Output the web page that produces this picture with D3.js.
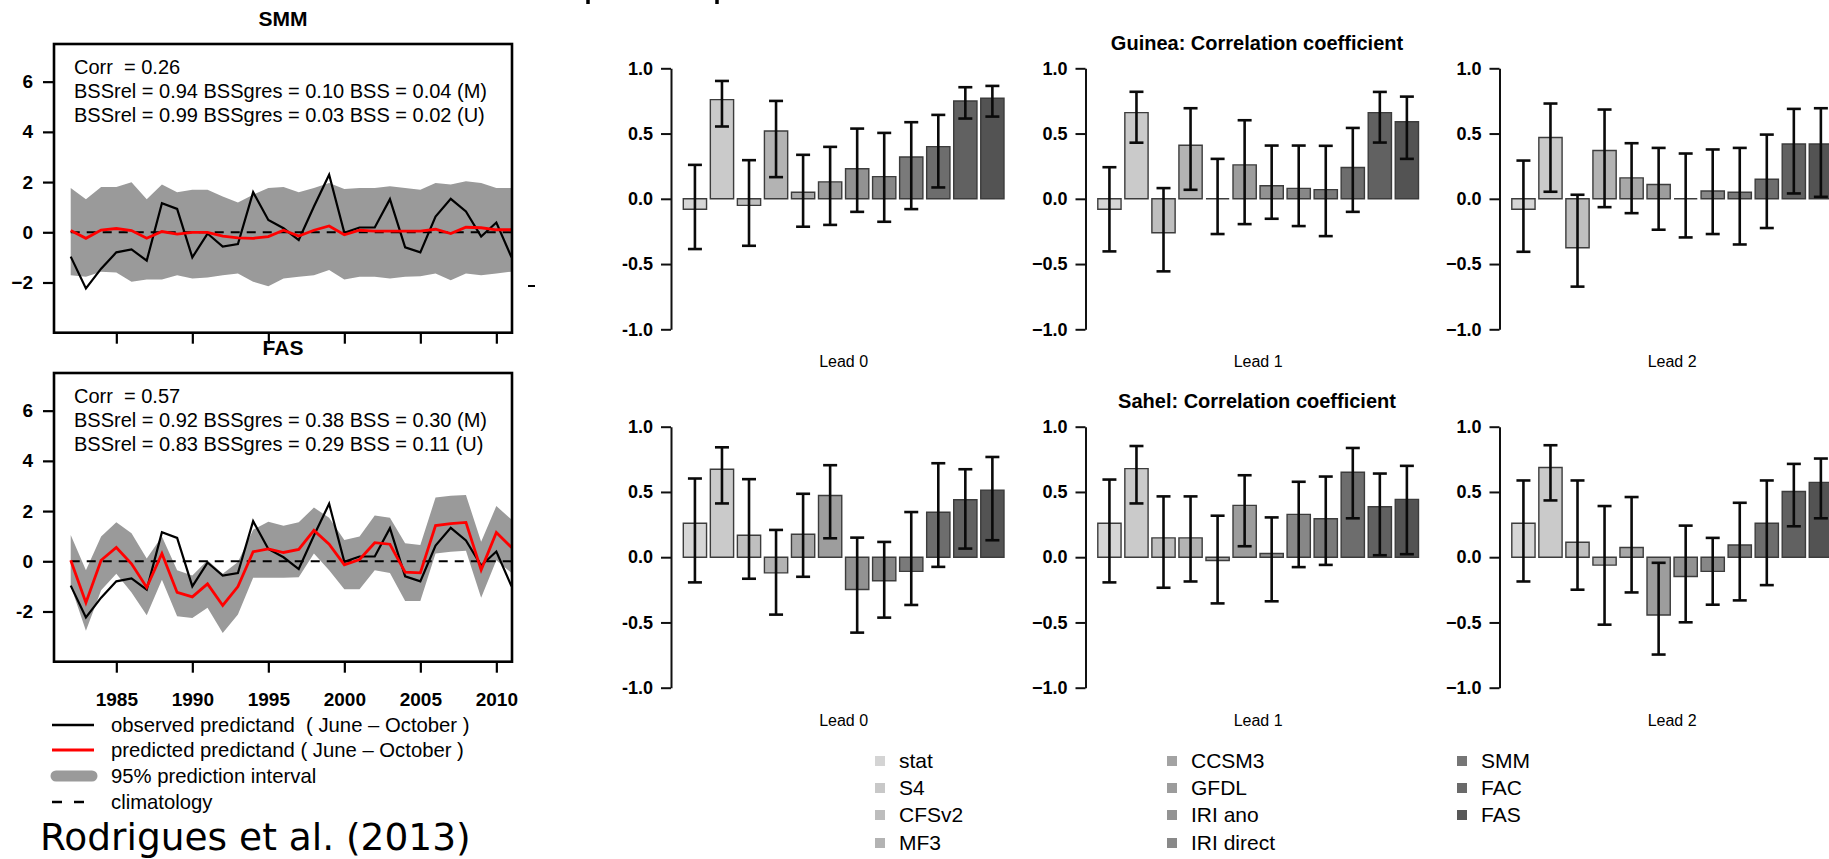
<!DOCTYPE html>
<html><head><meta charset="utf-8">
<script src="https://cdn.jsdelivr.net/npm/d3@7"></script>
<style>
body{margin:0;background:#fff;}
svg{display:block;overflow:hidden;}
text{font-family:"Liberation Sans",Arial,Helvetica,sans-serif;}
</style>
</head><body>
<svg id="c" width="1829" height="859"></svg>
<script>
// ---------------- DATA ----------------
const years = [1982,1983,1984,1985,1986,1987,1988,1989,1990,1991,1992,1993,1994,1995,1996,1997,1998,1999,2000,2001,2002,2003,2004,2005,2006,2007,2008,2009,2010,2011];
const yearTicks = [1985,1990,1995,2000,2005,2010];
const tsTicks = [-2,0,2,4,6];
const observed = [-0.97,-2.24,-1.45,-0.80,-0.68,-1.13,1.16,0.93,-1.00,-0.05,-0.57,-0.47,1.60,0.49,0.16,-0.31,1.03,2.29,-0.02,0.19,0.19,1.32,-0.60,-0.80,0.63,1.33,0.83,-0.17,0.39,-1.00];
const smmPred  = [0.07,-0.24,0.09,0.15,0.07,-0.24,0.03,-0.07,0.00,0.00,-0.15,-0.22,-0.24,-0.17,0.08,-0.15,0.08,0.25,-0.10,0.08,0.05,0.05,0.05,0.05,0.12,-0.05,0.20,0.18,0.10,0.10];
const smmUpper = [1.76,1.32,1.80,1.80,1.99,1.32,1.90,1.59,1.69,1.69,1.43,1.19,1.50,1.76,1.80,1.59,1.76,1.96,1.72,1.76,1.76,1.83,1.76,1.69,1.96,1.90,2.03,1.96,1.76,1.76];
const smmLower = [-1.71,-1.77,-1.57,-1.60,-1.97,-1.88,-1.88,-1.71,-1.84,-1.80,-1.71,-1.64,-1.97,-2.15,-1.84,-1.77,-1.71,-1.50,-1.88,-1.77,-1.77,-1.84,-1.77,-1.75,-1.64,-1.91,-1.64,-1.71,-1.64,-1.57];
const fasPred  = [0.04,-1.65,0.04,0.55,-0.10,-1.04,0.31,-1.24,-1.42,-0.90,-1.76,-1.01,0.38,0.49,0.35,0.47,1.23,0.68,-0.14,0.07,0.74,0.68,-0.43,-0.46,1.42,1.50,1.55,-0.34,1.15,0.55];
const fasUpper = [1.05,-0.36,0.99,1.55,1.12,0.11,0.99,-0.36,-0.57,0.04,-0.50,-0.03,1.26,1.57,1.42,1.55,2.14,1.73,0.85,0.99,1.82,1.73,0.72,0.65,2.54,2.61,2.64,0.78,2.20,1.66];
const fasLower = [-0.97,-2.77,-1.15,-0.50,-1.24,-2.15,-0.74,-2.19,-2.26,-1.85,-2.86,-2.12,-0.66,-0.66,-0.66,-0.64,0.31,-0.36,-1.11,-1.11,-0.36,-0.47,-1.58,-1.58,0.31,0.38,0.42,-1.45,0.04,-0.47];
const smmStats = ["Corr  = 0.26","BSSrel = 0.94 BSSgres = 0.10 BSS = 0.04 (M)","BSSrel = 0.99 BSSgres = 0.03 BSS = 0.02 (U)"];
const fasStats = ["Corr  = 0.57","BSSrel = 0.92 BSSgres = 0.38 BSS = 0.30 (M)","BSSrel = 0.83 BSSgres = 0.29 BSS = 0.11 (U)"];
const tsLegend = ["observed predictand  ( June \u2013 October )","predicted predictand ( June \u2013 October )","95% prediction interval","climatology"];

const leadLabels = ["Lead 0","Lead 1","Lead 2"];
const corrTicks = [-1,-0.5,0,0.5,1];
const guineaCorr = [
  [-0.08,0.76,-0.05,0.52,0.05,0.13,0.23,0.17,0.32,0.40,0.75,0.77],
  [-0.08,0.66,-0.26,0.41,0.00,0.26,0.10,0.08,0.07,0.24,0.66,0.59],
  [-0.08,0.47,-0.375,0.37,0.16,0.11,0.00,0.06,0.05,0.15,0.42,0.42]];
const guineaLow = [
  [-0.385,0.554,-0.36,0.166,-0.214,-0.20,-0.10,-0.176,-0.079,0.087,0.615,0.63],
  [-0.403,0.43,-0.556,0.069,-0.27,-0.194,-0.153,-0.209,-0.286,-0.10,0.431,0.306],
  [-0.406,0.054,-0.673,-0.064,-0.11,-0.237,-0.296,-0.27,-0.35,-0.224,0.041,0.015]];
const guineaHigh = [
  [0.26,0.903,0.296,0.75,0.337,0.398,0.538,0.505,0.587,0.643,0.855,0.865],
  [0.242,0.82,0.082,0.694,0.306,0.602,0.408,0.408,0.406,0.543,0.819,0.783],
  [0.293,0.73,0.031,0.684,0.426,0.39,0.347,0.378,0.39,0.492,0.689,0.694]];
const sahelCorr = [
  [0.26,0.674,0.168,-0.12,0.176,0.473,-0.247,-0.18,-0.109,0.344,0.44,0.514],
  [0.26,0.679,0.148,0.148,-0.025,0.397,0.028,0.328,0.295,0.651,0.387,0.443],
  [0.26,0.687,0.115,-0.061,0.074,-0.443,-0.148,-0.109,0.094,0.26,0.504,0.573]];
const sahelLow = [
  [-0.193,0.412,-0.165,-0.44,-0.15,0.145,-0.578,-0.463,-0.366,-0.074,0.066,0.13],
  [-0.193,0.412,-0.234,-0.186,-0.354,0.084,-0.338,-0.076,-0.059,0.298,0.015,0.023],
  [-0.186,0.435,-0.249,-0.517,-0.27,-0.746,-0.499,-0.364,-0.331,-0.214,0.237,0.298]];
const sahelHigh = [
  [0.603,0.842,0.598,0.209,0.486,0.705,0.15,0.117,0.346,0.72,0.674,0.768],
  [0.595,0.852,0.466,0.466,0.318,0.628,0.305,0.578,0.618,0.837,0.641,0.70],
  [0.588,0.858,0.588,0.392,0.461,-0.043,0.242,0.148,0.417,0.588,0.715,0.756]];
const barIds = ["b1","b2","b3","b4","b5","b6","b7","b8","b9","b10","b11","b12"];
const barColors = ["#d6d6d6","#cacaca","#bfbfbf","#b3b3b3","#a8a8a8","#9d9d9d","#929292","#878787","#7a7a7a","#6d6d6d","#616161","#535353"];
const modelLabels = ["stat","S4","CFSv2","MF3","CCSM3","GFDL","IRI ano","IRI direct","SMM","FAC","FAS"];
const modelColors = ["#d4d4d4","#c8c8c8","#bdbdbd","#b3b3b3","#a3a3a3","#9c9c9c","#939393","#898989","#767676","#6a6a6a","#585858"];

// ---------------- DRAW ----------------
const svg = d3.select("#c");

// cut-off glyph fragments at the very top
[588, 717].forEach(px => svg.append("line").attr("x1",px).attr("x2",px).attr("y1",0).attr("y2",4)
  .attr("stroke","#000").attr("stroke-width",3.5));

function tsPanel(top, title, pred, lo, hi, stats, showYears, minus) {
  const x = d3.scaleLinear().domain([1980.9, 2011.03]).range([54, 512]);
  const y = d3.scaleLinear().domain([-4, 7.5]).range([top + 288.7, top]);
  const g = svg.append("g");
  const rows = years.map((yr, i) => ({yr, obs: observed[i], p: pred[i], lo: lo[i], hi: hi[i]}));
  g.append("path").datum(rows)
    .attr("d", d3.area().x(d => x(d.yr)).y0(d => y(d.lo)).y1(d => y(d.hi)))
    .attr("fill", "#9a9a9a");
  g.append("line").attr("x1", x(years[0])).attr("x2", x(years[years.length-1]))
    .attr("y1", y(0)).attr("y2", y(0)).attr("stroke", "#000").attr("stroke-width", 2)
    .attr("stroke-dasharray", "9,7");
  g.append("path").datum(rows).attr("d", d3.line().x(d => x(d.yr)).y(d => y(d.obs)))
    .attr("fill", "none").attr("stroke", "#000").attr("stroke-width", 2.2);
  g.append("path").datum(rows).attr("d", d3.line().x(d => x(d.yr)).y(d => y(d.p)))
    .attr("fill", "none").attr("stroke", "#ff0000").attr("stroke-width", 2.8);
  g.append("rect").attr("x", 54).attr("y", top).attr("width", 458).attr("height", 288.7)
    .attr("fill", "none").attr("stroke", "#000").attr("stroke-width", 2.6);
  // stats
  stats.forEach((s, i) => g.append("text").attr("x", 74).attr("y", top + 30 + i * 24)
    .attr("font-size", 20).style("white-space", "pre").text(s));
  // y axis
  const ya = g.append("g").attr("transform", "translate(54,0)")
    .call(d3.axisLeft(y).tickValues(tsTicks).tickSize(11).tickSizeOuter(0).tickPadding(10)
      .tickFormat(d => d < 0 ? minus + Math.abs(d) : String(d)));
  ya.select(".domain").remove();
  ya.selectAll("line").attr("stroke", "#000").attr("stroke-width", 2.2);
  ya.selectAll("text").attr("font-size", 19).attr("font-weight", "bold").attr("fill", "#000")
    .style("font-family", '"Liberation Sans",Arial,sans-serif');
  // x axis
  const xa = g.append("g").attr("transform", `translate(0,${top + 288.7})`)
    .call(d3.axisBottom(x).tickValues(yearTicks).tickSize(11).tickSizeOuter(0).tickFormat(d3.format("d")));
  xa.select(".domain").remove();
  xa.selectAll("line").attr("stroke", "#000").attr("stroke-width", 2.2);
  if (showYears) {
    xa.selectAll("text").attr("y", 38).attr("dy", "0.35em").attr("font-size", 19)
      .attr("font-weight", "bold").attr("fill", "#000")
      .style("font-family", '"Liberation Sans",Arial,sans-serif');
  } else xa.selectAll("text").remove();
  g.append("text").attr("x", 283).attr("y", top - 25).attr("dy", "0.35em")
    .attr("text-anchor", "middle").attr("font-size", 21).attr("font-weight", "bold").text(title);
}
tsPanel(44, "SMM", smmPred, smmLower, smmUpper, smmStats, false, "\u2212");
tsPanel(373, "FAS", fasPred, fasLower, fasUpper, fasStats, true, "-");

// stray dash right of SMM panel
svg.append("line").attr("x1", 528).attr("x2", 535).attr("y1", 286).attr("y2", 286)
  .attr("stroke", "#000").attr("stroke-width", 2);

// left legend
const legY = [725, 750, 776, 802];
const lg = svg.append("g");
lg.append("line").attr("x1", 52).attr("x2", 94).attr("y1", legY[0]).attr("y2", legY[0]).attr("stroke", "#000").attr("stroke-width", 2.6);
lg.append("line").attr("x1", 52).attr("x2", 94).attr("y1", legY[1]).attr("y2", legY[1]).attr("stroke", "#ff0000").attr("stroke-width", 2.8);
lg.append("line").attr("x1", 56).attr("x2", 92).attr("y1", legY[2]).attr("y2", legY[2]).attr("stroke", "#9a9a9a").attr("stroke-width", 11).attr("stroke-linecap", "round");
lg.append("line").attr("x1", 52).attr("x2", 94).attr("y1", legY[3]).attr("y2", legY[3]).attr("stroke", "#000").attr("stroke-width", 2.6).attr("stroke-dasharray", "10,12");
tsLegend.forEach((t, i) => lg.append("text").attr("x", 111).attr("y", legY[i]).attr("dy", "0.35em")
  .attr("font-size", 20.3).style("white-space", "pre").text(t));

svg.append("text").attr("x", 40).attr("y", 850).attr("font-size", 37.5)
  .style("font-family", '"DejaVu Sans",Verdana,sans-serif').text("Rodrigues et al. (2013)");

// bar panels
const axisX = [671, 1085.5, 1499.5];
function barPanel(ax, top, vals, lo, hi, label, minus) {
  const y = d3.scaleLinear().domain([-1, 1]).range([top + 261, top]);
  const x = d3.scaleBand().domain(barIds).range([ax + 12.3, ax + 333]).paddingInner(0.14);
  const g = svg.append("g");
  const data = barIds.map((id, i) => ({id, v: vals[i], lo: lo[i], hi: hi[i], c: barColors[i]}));
  g.selectAll("path.bar").data(data).join("path").attr("class", "bar")
    .attr("d", d => { const x0 = x(d.id), w = x.bandwidth(); return `M${x0},${y(0)}H${x0 + w}V${y(d.v)}H${x0}Z`; })
    .attr("fill", d => d.c).attr("stroke", "#3c3c3c").attr("stroke-width", 1.4);
  const eb = g.selectAll("g.eb").data(data).join("g").attr("class", "eb")
    .attr("transform", d => `translate(${x(d.id) + x.bandwidth() / 2},0)`);
  eb.append("line").attr("y1", d => y(d.lo)).attr("y2", d => y(d.hi));
  eb.append("line").attr("x1", -7).attr("x2", 7).attr("y1", d => y(d.lo)).attr("y2", d => y(d.lo));
  eb.append("line").attr("x1", -7).attr("x2", 7).attr("y1", d => y(d.hi)).attr("y2", d => y(d.hi));
  eb.selectAll("line").attr("stroke", "#0a0a0a").attr("stroke-width", 2.6);
  const ya = g.append("g").attr("transform", `translate(${ax},0)`)
    .call(d3.axisLeft(y).tickValues(corrTicks).tickSize(10).tickSizeOuter(0).tickPadding(8)
      .tickFormat(d => (d < 0 ? minus : "") + d3.format(".1f")(Math.abs(d))));
  ya.selectAll("path,line").attr("stroke", "#111").attr("stroke-width", 2);
  ya.selectAll("text").attr("font-size", 18).attr("font-weight", "bold").attr("fill", "#000")
    .style("font-family", '"Liberation Sans",Arial,sans-serif');
  g.append("text").attr("x", ax + 12.3 + (333 - 12.3) / 2).attr("y", top + 293.5).attr("dy", "0.35em")
    .attr("text-anchor", "middle").attr("font-size", 16).text(label);
}
leadLabels.forEach((lab, k) => {
  barPanel(axisX[k], 68.3, guineaCorr[k], guineaLow[k], guineaHigh[k], lab, k === 0 ? "-" : "\u2212");
  barPanel(axisX[k], 426.7, sahelCorr[k], sahelLow[k], sahelHigh[k], lab, k === 0 ? "-" : "\u2212");
});
svg.append("text").attr("x", 1257).attr("y", 43).attr("dy", "0.35em").attr("text-anchor", "middle")
  .attr("font-size", 20).attr("font-weight", "bold").text("Guinea: Correlation coefficient");
svg.append("text").attr("x", 1257).attr("y", 401).attr("dy", "0.35em").attr("text-anchor", "middle")
  .attr("font-size", 20).attr("font-weight", "bold").text("Sahel: Correlation coefficient");

// model legend
const legColX = [875, 1167, 1457];
const legRowY = [761, 788, 815, 843];
modelLabels.forEach((m, i) => {
  const cx = legColX[Math.floor(i / 4)], cy = legRowY[i % 4];
  svg.append("rect").attr("x", cx).attr("y", cy - 5).attr("width", 10).attr("height", 10).attr("fill", modelColors[i]);
  svg.append("text").attr("x", cx + 24).attr("y", cy).attr("dy", "0.35em").attr("font-size", 21).text(m);
});
</script>
</body></html>
